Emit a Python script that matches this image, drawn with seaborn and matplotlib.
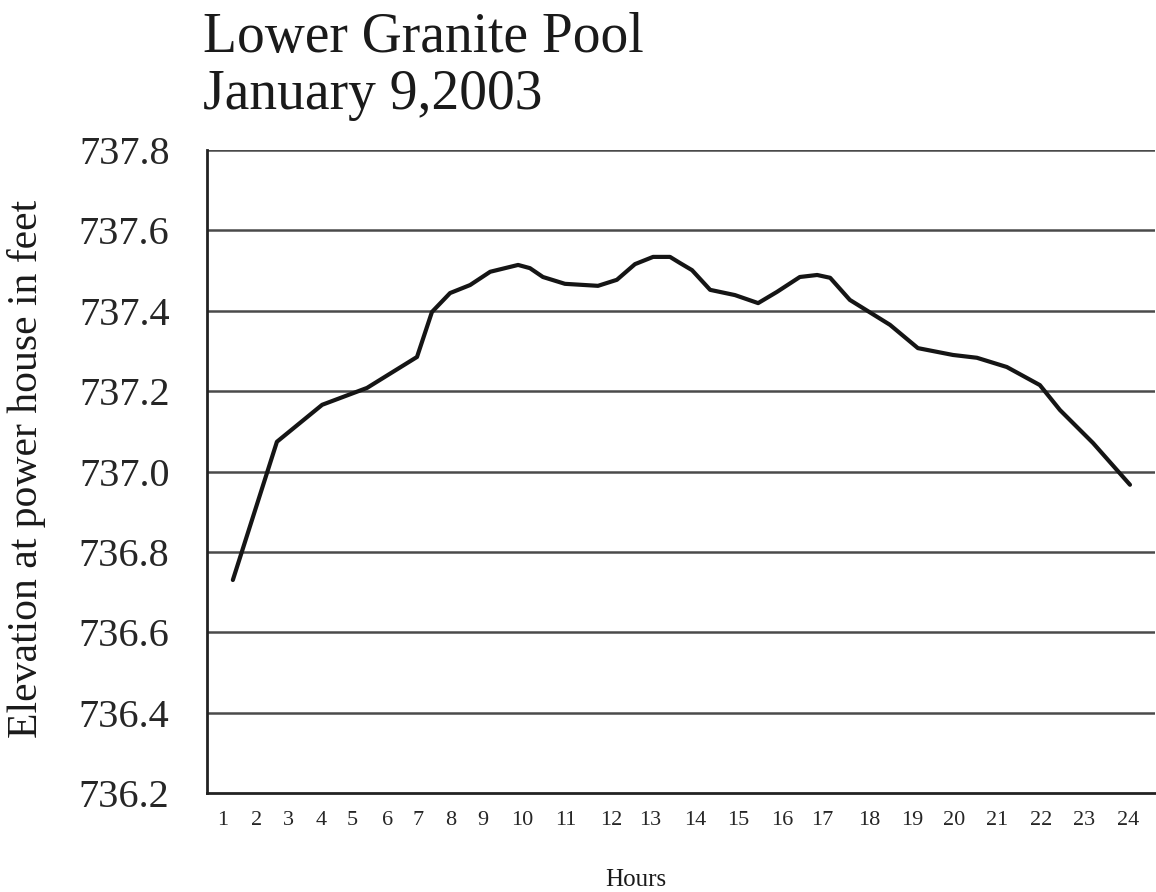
import numpy as np
import pandas as pd
import matplotlib
matplotlib.use("Agg")
import matplotlib.pyplot as plt
import seaborn as sns

# hour positions of the traced curve and pool elevation (feet)
hours = [1.25, 2.37, 3.52, 4.66, 5.93, 6.31, 6.77, 7.28, 7.79, 8.50, 8.80, 9.13,
         9.69, 10.53, 11.01, 11.47, 11.93, 12.36, 12.61, 12.92, 13.38, 14.01,
         14.60, 15.08, 15.66, 16.10, 16.43, 16.93, 17.95, 18.66, 19.55, 20.16,
         20.92, 21.76, 22.27, 23.11, 24.05]
elevation = [736.73, 737.074, 737.166, 737.208, 737.285, 737.397, 737.444,
             737.464, 737.497, 737.514, 737.506, 737.484, 737.467, 737.462,
             737.477, 737.516, 737.534, 737.534, 737.519, 737.501, 737.452,
             737.439, 737.419, 737.447, 737.484, 737.489, 737.482, 737.427,
             737.365, 737.307, 737.29, 737.283, 737.26, 737.215, 737.153,
             737.071, 736.967]

tick_labels = [str(h) for h in range(1, 25)]
tick_pos = [1.0, 1.86, 2.65, 3.49, 4.28, 5.17, 5.96, 6.79, 7.61, 8.60, 9.72,
            10.86, 11.85, 13.0, 14.09, 15.21, 16.24, 17.42, 18.51, 19.58,
            20.67, 21.79, 22.88, 24.0]
y_ticks = [736.2, 736.4, 736.6, 736.8, 737.0, 737.2, 737.4, 737.6, 737.8]

df = pd.DataFrame({"Hours": hours, "Elevation": elevation})

sns.set_style("white")
plt.rcParams["font.family"] = ["Liberation Serif", "DejaVu Serif"]

fig = plt.figure(figsize=(11.56, 8.92), dpi=100)
ax = fig.add_axes([207 / 1156, 99 / 892, 948 / 1156, 643 / 892])

for yv in y_ticks[1:]:
    ax.axhline(yv, color="#4a4a4a", lw=1.8, zorder=1)

sns.lineplot(data=df, x="Hours", y="Elevation", ax=ax, color="#151515",
             linewidth=3.0, zorder=3)

ax.set_xlim(0.593, 24.686)
ax.set_ylim(736.2, 737.8)
ax.set_yticks(y_ticks)
ax.set_yticklabels([f"{v:.1f}" for v in y_ticks], fontsize=29)
ax.set_xticks(tick_pos)
ax.set_xticklabels(tick_labels, fontsize=16)
ax.tick_params(axis="y", length=0, pad=27)
ax.tick_params(axis="x", length=0, pad=13)
ax.set_xlabel("")
ax.set_ylabel("")

for side in ["top", "right"]:
    ax.spines[side].set_visible(False)
for side in ["left", "bottom"]:
    ax.spines[side].set_color("#222222")
    ax.spines[side].set_linewidth(2.0)

fig.text(203 / 1156, 1 - 12 / 892, "Lower Granite Pool\nJanuary 9,2003",
         fontsize=40, va="top", ha="left", linespacing=1.13, color="#1a1a1a")
fig.text(27 / 1156, 1 - 469 / 892, "Elevation at power house in feet",
         fontsize=30, rotation=90, va="center", ha="center", color="#1a1a1a")
fig.text(636 / 1156, 1 - 880 / 892, "Hours", fontsize=18, va="center",
         ha="center", color="#1a1a1a")

fig.savefig("out.png", dpi=100, facecolor="white")
